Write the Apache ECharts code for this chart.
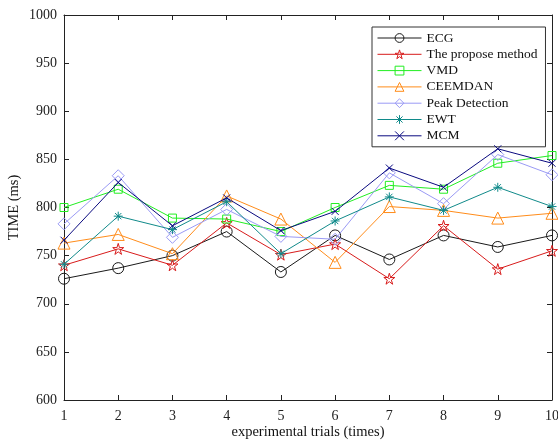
<!DOCTYPE html>
<html>
<head>
<meta charset="utf-8">
<script src="https://cdn.jsdelivr.net/npm/echarts@6/dist/echarts.min.js"></script>
<style>
html,body{margin:0;padding:0;background:#fff;}
#chart{width:558px;height:446px;}
</style>
</head>
<body>
<div id="chart"></div>
<script>
var trials = ['1','2','3','4','5','6','7','8','9','10'];
var yTicks = [600, 650, 700, 750, 800, 850, 900, 950, 1000];

var ecg       = [726, 737, 750, 775, 733, 771, 746, 771, 759, 771];
var proposed  = [740, 757, 740, 784, 751, 762, 726, 781, 736, 755];
var vmd       = [800, 819, 789, 788, 775, 800, 823, 819, 846, 854];
var ceemdan   = [763, 772, 752, 812, 788, 743, 801, 797, 789, 794];
var peak      = [783, 833, 769, 798, 770, 767, 836, 804, 855, 834];
var ewt       = [741, 791, 777, 806, 752, 786, 811, 797, 821, 801];
var mcm       = [766, 826, 781, 810, 776, 796, 841, 821, 861, 846];

var names = ['ECG','The propose method','VMD','CEEMDAN','Peak Detection','EWT','MCM'];
var values = [ecg, proposed, vmd, ceemdan, peak, ewt, mcm];
var colors = ['#1a1a1a','#d81b1b','#22ee22','#ff8c1a','#9a9af5','#108a8a','#0a0a80'];
var STAR = 'path://M50,0L61,35L98,35L68,57L79,91L50,70L21,91L32,57L2,35L39,35Z';
var AST = 'path://M5,0L5,10M0,5L10,5M1.5,1.5L8.5,8.5M8.5,1.5L1.5,8.5';
var XM = 'path://M0,0L10,10M10,0L0,10';
var symbols = ['circle', STAR, 'rect', 'triangle', 'diamond', AST, XM];
var sizes = [11, 11, 8, 12, 12, 9, 7];

var font = "'Liberation Serif','Times New Roman',serif";

var series = names.map(function(n, i){
  return {
    name: n,
    type: 'line',
    xAxisIndex: 0,
    yAxisIndex: 0,
    data: values[i],
    symbol: symbols[i],
    symbolSize: sizes[i],
    showAllSymbol: true,
    z: 2 + i,
    lineStyle: {color: colors[i], width: 1},
    itemStyle: {color: 'rgba(255,255,255,0)', borderColor: colors[i], borderWidth: 1},
    emphasis: {disabled: true},
    animation: false
  };
});

var chart = echarts.init(document.getElementById('chart'), null, {renderer: 'canvas'});
chart.setOption({
  animation: false,
  backgroundColor: '#fff',
  grid: {left: 64, right: 6, top: 15, bottom: 46, containLabel: false, outerBoundsMode: 'none'},
  legend: {
    orient: 'vertical',
    left: 372, top: 27,
    backgroundColor: '#fff',
    borderColor: '#333', borderWidth: 1, borderRadius: 0,
    padding: [4, 8, 4, 5],
    itemGap: 2.3,
    itemWidth: 44, itemHeight: 11,
    itemStyle: {borderWidth: 1},
    lineStyle: {width: 1},
    textStyle: {fontFamily: font, fontSize: 13.5, color: '#111'},
    data: names
  },
  xAxis: [{
    type: 'category', data: trials, boundaryGap: false, position: 'bottom',
    name: 'experimental trials (times)', nameLocation: 'middle', nameGap: 25,
    nameMoveOverlap: false,
    nameTextStyle: {fontFamily: font, fontSize: 14.5, color: '#111'},
    axisLine: {lineStyle: {color: '#222', width: 1}},
    axisTick: {inside: true, length: 5, alignWithLabel: true, lineStyle: {color: '#222'}},
    axisLabel: {fontFamily: font, fontSize: 14, color: '#222', margin: 9, interval: 0},
    splitLine: {show: false}
  },{
    type: 'category', data: trials, boundaryGap: false, position: 'top',
    axisLine: {lineStyle: {color: '#222', width: 1}},
    axisTick: {inside: true, length: 5, lineStyle: {color: '#222'}},
    axisLabel: {show: false},
    splitLine: {show: false}
  }],
  yAxis: [{
    type: 'value', min: yTicks[0], max: yTicks[yTicks.length-1], interval: 50, position: 'left',
    name: 'TIME (ms)', nameLocation: 'middle', nameGap: 42, nameRotate: 90,
    nameMoveOverlap: false,
    nameTextStyle: {fontFamily: font, fontSize: 14.5, color: '#111'},
    axisLine: {show: true, lineStyle: {color: '#222', width: 1}},
    axisTick: {show: true, inside: true, length: 5, lineStyle: {color: '#222'}},
    axisLabel: {fontFamily: font, fontSize: 14, color: '#222', margin: 7,
      formatter: function(v){ return String(v); }},
    splitLine: {show: false}
  },{
    type: 'value', min: yTicks[0], max: yTicks[yTicks.length-1], interval: 50, position: 'right',
    axisLine: {show: true, lineStyle: {color: '#222', width: 1}},
    axisTick: {show: true, inside: true, length: 5, lineStyle: {color: '#222'}},
    axisLabel: {show: false},
    splitLine: {show: false}
  }],
  series: series
});
</script>
</body>
</html>
